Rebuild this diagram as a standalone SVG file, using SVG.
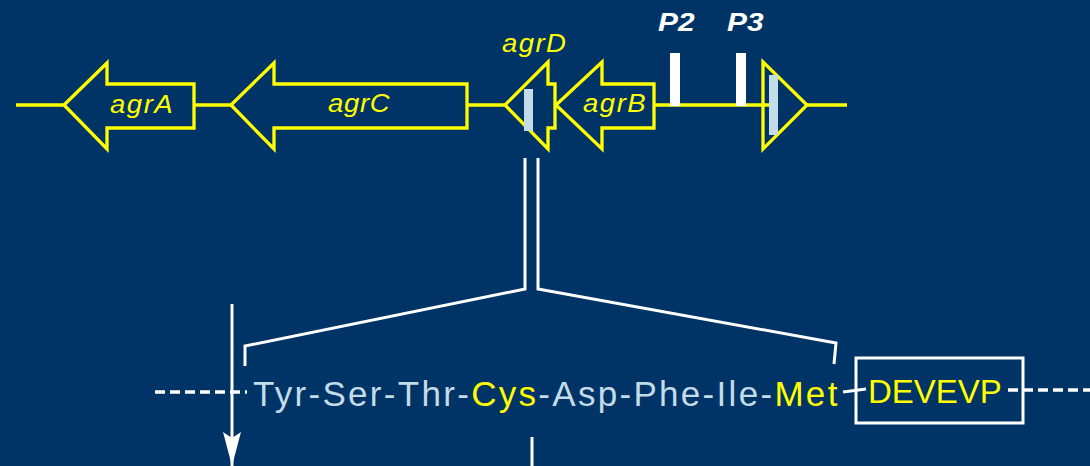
<svg xmlns="http://www.w3.org/2000/svg" width="1090" height="466" viewBox="0 0 1090 466">
  <style>
    .gene { fill: none; stroke: #FFFF00; stroke-width: 3.3; stroke-linejoin: miter; }
    .axis { stroke: #FFFF00; stroke-width: 3.3; fill: none; }
    .lbl { font-family: "Liberation Sans", Arial, sans-serif; font-style: italic; font-size: 25px; fill: #FFFF00; }
    .prom { font-family: "Liberation Sans", Arial, sans-serif; font-style: italic; font-weight: bold; font-size: 26px; fill: #FFFFFF; }
    .pbar { fill: #FFFFFF; }
    .motif { fill: #C2DCE8; }
    .wline { stroke: #FFFFFF; stroke-width: 3; fill: none; }
    .dash { stroke: #FFFFFF; stroke-width: 3.5; stroke-dasharray: 10 5; fill: none; }
    .pep { font-family: "Liberation Sans", Arial, sans-serif; font-size: 35px; fill: #C2DCE8; letter-spacing: 2.3px; }
    .hl { fill: #FFFF00; }
  </style>
  <defs>
    <!-- arrowhead drawn along +x, tip at the reference point -->
    <marker id="head" viewBox="0 0 34 18" refX="34" refY="9" markerWidth="34" markerHeight="18" markerUnits="userSpaceOnUse" orient="auto">
      <path d="M0,0 L6,9 L0,18 L34,9 Z" fill="#FFFFFF"/>
    </marker>
  </defs>

  <rect x="0" y="0" width="1090" height="466" fill="#003366"/>

  <!-- locus backbone -->
  <g id="backbone">
    <line class="axis" x1="16" y1="105" x2="64" y2="105"/>
    <line class="axis" x1="194" y1="105" x2="231" y2="105"/>
    <line class="axis" x1="467" y1="105" x2="505" y2="105"/>
    <line class="axis" x1="654" y1="105" x2="772" y2="105"/>
    <line class="axis" x1="807" y1="105" x2="847" y2="105"/>
  </g>

  <!-- genes of the operon (labels slightly widened) -->
  <g id="agrA">
    <path class="gene" d="M64,105 L107,63 L107,84 L194,84 L194,128 L107,128 L107,149 Z"/>
    <text class="lbl" transform="translate(110,113) scale(1.1,1)" textLength="57" lengthAdjust="spacing">agrA</text>
  </g>
  <g id="agrC">
    <path class="gene" d="M231,105 L274,63 L274,84 L467,84 L467,128 L274,128 L274,149 Z"/>
    <text class="lbl" transform="translate(328,112) scale(1.1,1)" textLength="56" lengthAdjust="spacing">agrC</text>
  </g>
  <g id="agrD">
    <path class="gene" d="M505,105 L548,62 L548,84 L555,84 L555,128 L548,128 L548,149 Z"/>
    <rect class="motif" x="524" y="89" width="9" height="42"/>
    <text class="lbl" transform="translate(502,52) scale(1.1,1)" textLength="58" lengthAdjust="spacing">agrD</text>
  </g>
  <g id="agrB">
    <path class="gene" d="M556,105 L602,62 L602,84 L654,84 L654,128 L602,128 L602,149 Z"/>
    <text class="lbl" transform="translate(583,112) scale(1.1,1)" textLength="57" lengthAdjust="spacing">agrB</text>
  </g>
  <g id="rnaIII">
    <path class="gene" d="M763,62 L807,105 L763,149 Z"/>
    <rect class="motif" x="769" y="75" width="9" height="60"/>
  </g>

  <!-- promoters -->
  <g id="P2">
    <rect class="pbar" x="670" y="53" width="10" height="53"/>
    <text class="prom" transform="translate(658,31) scale(1.15,1)">P2</text>
  </g>
  <g id="P3">
    <rect class="pbar" x="736" y="53" width="10" height="53"/>
    <text class="prom" transform="translate(727,31) scale(1.15,1)">P3</text>
  </g>

  <!-- expansion of the agrD segment and cleavage marks -->
  <g id="connectors">
    <polyline class="wline" points="525,158 525,289 245,346 245,366"/>
    <polyline class="wline" points="538,158 538,289 836,343 834,364"/>
    <line class="wline" x1="232" y1="304" x2="232" y2="466" marker-end="url(#head)"/>
    <line class="wline" x1="532" y1="437" x2="532" y2="466"/>
    <line class="dash" x1="155" y1="392" x2="247" y2="392"/>
    <line class="dash" x1="1008" y1="390" x2="1090" y2="390"/>
    <line class="wline" x1="843" y1="392" x2="866" y2="389"/>
  </g>

  <!-- peptide sequence -->
  <g id="peptide">
    <text class="pep" x="253" y="406">Tyr-Ser-Thr-<tspan class="hl">Cys</tspan>-Asp-Phe-Ile-<tspan class="hl">Met</tspan></text>
  </g>
  <g id="DEVEVP">
    <rect class="wline" x="856" y="358" width="167" height="65"/>
    <text x="868" y="403" font-family="'Liberation Sans', Arial, sans-serif" font-size="33" fill="#FFFF00">DEVEVP</text>
  </g>
</svg>
